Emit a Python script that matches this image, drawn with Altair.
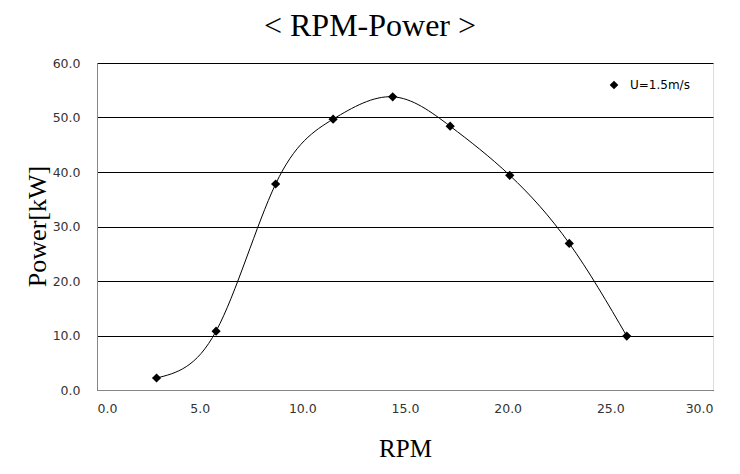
import altair as alt
import pandas as pd

rpm = [2.9, 5.8, 8.7, 11.5, 14.4, 17.2, 20.1, 23.0, 25.8]
power = [2.2, 10.8, 37.8, 49.7, 53.8, 48.4, 39.4, 26.9, 9.9]
series_name = "U=1.5m/s"
x_ticks = [0, 5, 10, 15, 20, 25, 30]
y_ticks = [0, 10, 20, 30, 40, 50, 60]

df = pd.DataFrame({"rpm": rpm, "power": power, "series": [series_name] * len(rpm)})

x_enc = alt.X(
    "rpm:Q",
    scale=alt.Scale(domain=[0, 30], nice=False),
    axis=alt.Axis(
        values=x_ticks, format=".1f", title="RPM", grid=False, ticks=False,
        domainColor="#868686", domainWidth=1,
        labelFont="DejaVu Sans", labelFontSize=12.5, labelColor="#333333", labelPadding=12,
        titleFont="Liberation Serif", titleFontSize=25, titleFontWeight="normal",
        titleColor="#000000", titleY=58, titleBaseline="middle",
    ),
)
y_enc = alt.Y(
    "power:Q",
    scale=alt.Scale(domain=[0, 60], nice=False),
    axis=alt.Axis(
        values=y_ticks, format=".1f", title="Power[kW]", grid=True, gridColor="#000000",
        gridWidth=1, gridOpacity=1, ticks=False,
        domainColor="#868686", domainWidth=1,
        labelFont="DejaVu Sans", labelFontSize=12.5, labelColor="#333333", labelPadding=17,
        titleFont="Liberation Serif", titleFontSize=26, titleFontWeight="normal",
        titleColor="#000000", titleX=-60, titleY=163, titleBaseline="middle",
        titleAlign="center",
    ),
)

line = alt.Chart(df).mark_line(interpolate="natural", color="#000000", strokeWidth=1).encode(
    x=x_enc, y=y_enc
)
points = alt.Chart(df).mark_point(shape="diamond", filled=True, size=85, opacity=1).encode(
    x=x_enc,
    y=y_enc,
    color=alt.Color(
        "series:N",
        scale=alt.Scale(range=["#000000"]),
        legend=alt.Legend(
            title=None, orient="none", legendX=511, legendY=16,
            symbolType="diamond", symbolSize=75, symbolFillColor="#000000",
            symbolStrokeWidth=0, labelFont="DejaVu Sans", labelFontSize=12,
            labelColor="#000000", labelOffset=10,
        ),
    ),
)

chart = (
    alt.layer(line, points)
    .properties(
        width=616,
        height=327,
        autosize=alt.AutoSizeParams(type="none"),
        padding={"left": 97, "top": 63, "right": 27, "bottom": 84},
        title=alt.TitleParams(
            "< RPM-Power >", font="Liberation Serif", fontSize=32, fontWeight="normal",
            color="#000000", anchor="middle", offset=14, dx=-35,
        ),
    )
    .configure_view(stroke=None)
    .configure(background="#ffffff")
)

chart.save("out.html", embed_options={"renderer": "svg", "actions": False})
